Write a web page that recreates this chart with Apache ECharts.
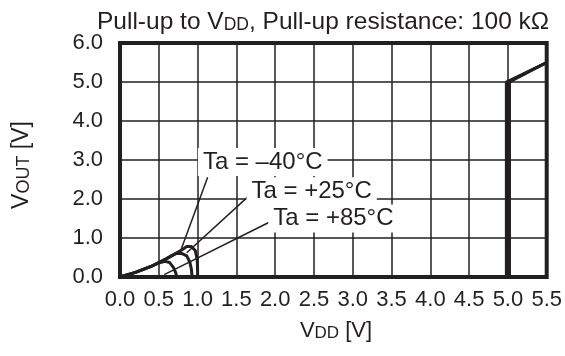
<!DOCTYPE html>
<html>
<head>
<meta charset="utf-8">
<script src="https://cdn.jsdelivr.net/npm/echarts@6/dist/echarts.min.js"></script>
<style>
  html, body { margin: 0; padding: 0; background: #ffffff; }
  #chart { width: 565px; height: 356px; }
</style>
</head>
<body>
<div id="chart"></div>
<script>
// Output voltage vs. supply voltage, open-drain output pulled up to VDD (100 kΩ)
const vddM40 = [0, 0.2, 0.4, 0.6, 0.8, 0.86, 0.92, 0.97, 0.995, 1.0, 1.0, 5.02, 5.02, 5.5];
const voutM40 = [0, 0.12, 0.27, 0.47, 0.70, 0.78, 0.78, 0.68, 0.45, 0.2, 0, 0, 5.0, 5.5];

const vddP25 = [0, 0.2, 0.4, 0.6, 0.72, 0.8, 0.86, 0.9, 0.92, 0.93, 5.0, 5.0, 5.5];
const voutP25 = [0, 0.12, 0.27, 0.47, 0.60, 0.60, 0.54, 0.38, 0.2, 0, 0, 5.0, 5.5];

const vddP85 = [0, 0.2, 0.4, 0.5, 0.58, 0.64, 0.69, 0.72, 0.73, 4.98, 4.98, 5.5];
const voutP85 = [0, 0.12, 0.27, 0.36, 0.40, 0.37, 0.24, 0.1, 0, 0, 5.0, 5.5];

// Curve call-outs: text, label centre and leader line (all in axis units)
const calloutText = ['Ta = \u201340\u00b0C', 'Ta = +25\u00b0C', 'Ta = +85\u00b0C'];
const calloutAt = [[1.84, 2.95], [2.47, 2.2], [2.75, 1.5]];
const leaderFrom = [[1.13, 2.56], [1.70, 2.15], [1.93, 1.41]];
const leaderTo = [[0.79, 0.72], [0.86, 0.62], [0.57, 0.06]];

const xMin = 0, xMax = 5.5, xStep = 0.5;
const yMin = 0, yMax = 6, yStep = 1;

const INK = '#231f20';
const FONT = '"Liberation Sans", Arial, sans-serif';

const zip = (a, b) => a.map((v, i) => [v, b[i]]);

function curve(name, xs, ys) {
  return {
    name: name,
    type: 'line',
    data: zip(xs, ys),
    showSymbol: false,
    symbol: 'none',
    lineStyle: { color: INK, width: 3, join: 'round', cap: 'butt' },
    z: 5,
    silent: true
  };
}

const leaderSeries = leaderFrom.map((p, i) => ({
  type: 'line',
  data: [p, leaderTo[i]],
  symbol: 'none',
  lineStyle: { color: INK, width: 1.5 },
  z: 6,
  silent: true
}));

const calloutSeries = {
  type: 'scatter',
  symbolSize: 0,
  itemStyle: { opacity: 1, color: INK },
  data: calloutAt.map((p, i) => ({ value: p, name: calloutText[i] })),
  label: {
    show: true,
    position: 'inside',
    formatter: p => p.name,
    fontFamily: FONT,
    fontSize: 24,
    color: INK,
    opacity: 1,
    textBorderWidth: 0,
    backgroundColor: '#ffffff',
    padding: [3, 5, 1, 5]
  },
  labelLayout: { hideOverlap: false },
  z: 10,
  silent: true
};

// rich-text styles for a name with a small-caps subscript
function subRich(n, s) {
  return {
    n: { fontFamily: FONT, fontSize: n, fill: INK, verticalAlign: 'bottom' },
    s: { fontFamily: FONT, fontSize: s, fill: INK, verticalAlign: 'bottom' }
  };
}

const chart = echarts.init(document.getElementById('chart'), null, { renderer: 'canvas' });

chart.setOption({
  animation: false,
  backgroundColor: '#ffffff',
  grid: {
    left: 120, right: 16, top: 43, bottom: 79,
    show: true,
    borderColor: INK,
    borderWidth: 4,
    backgroundColor: 'transparent',
    z: 20
  },
  xAxis: {
    type: 'value',
    min: xMin, max: xMax, interval: xStep,
    axisLine: { show: false },
    axisTick: { show: false },
    splitLine: { show: true, lineStyle: { color: INK, width: 1.5 } },
    axisLabel: {
      fontFamily: FONT, fontSize: 22, color: INK, margin: 12,
      formatter: v => v.toFixed(1)
    }
  },
  yAxis: {
    type: 'value',
    min: yMin, max: yMax, interval: yStep,
    axisLine: { show: false },
    axisTick: { show: false },
    splitLine: { show: true, lineStyle: { color: INK, width: 1.5 } },
    axisLabel: {
      fontFamily: FONT, fontSize: 22, color: INK, margin: 17,
      formatter: v => v.toFixed(1)
    }
  },
  graphic: [
    {
      type: 'text', x: 97, y: 22, z: 30,
      style: {
        text: '{n|Pull-up to V}{s|DD}{n|, Pull-up resistance: 100 k\u03a9}',
        align: 'left', verticalAlign: 'middle',
        fill: INK,
        rich: subRich(24.5, 17.5)
      }
    },
    {
      type: 'text', x: 336, y: 331, z: 30,
      style: {
        text: '{n|V}{s|DD}{n| [V]}',
        align: 'center', verticalAlign: 'middle',
        fill: INK,
        rich: subRich(22, 17)
      }
    },
    {
      type: 'text', x: 22, y: 165, rotation: Math.PI / 2, z: 30,
      style: {
        text: '{n|V}{s|OUT}{n| [V]}',
        align: 'center', verticalAlign: 'middle',
        fill: INK,
        rich: subRich(23, 18)
      }
    }
  ],
  series: [
    curve('Ta = -40°C', vddM40, voutM40),
    curve('Ta = +25°C', vddP25, voutP25),
    curve('Ta = +85°C', vddP85, voutP85),
    ...leaderSeries,
    calloutSeries
  ]
});
</script>
</body>
</html>
